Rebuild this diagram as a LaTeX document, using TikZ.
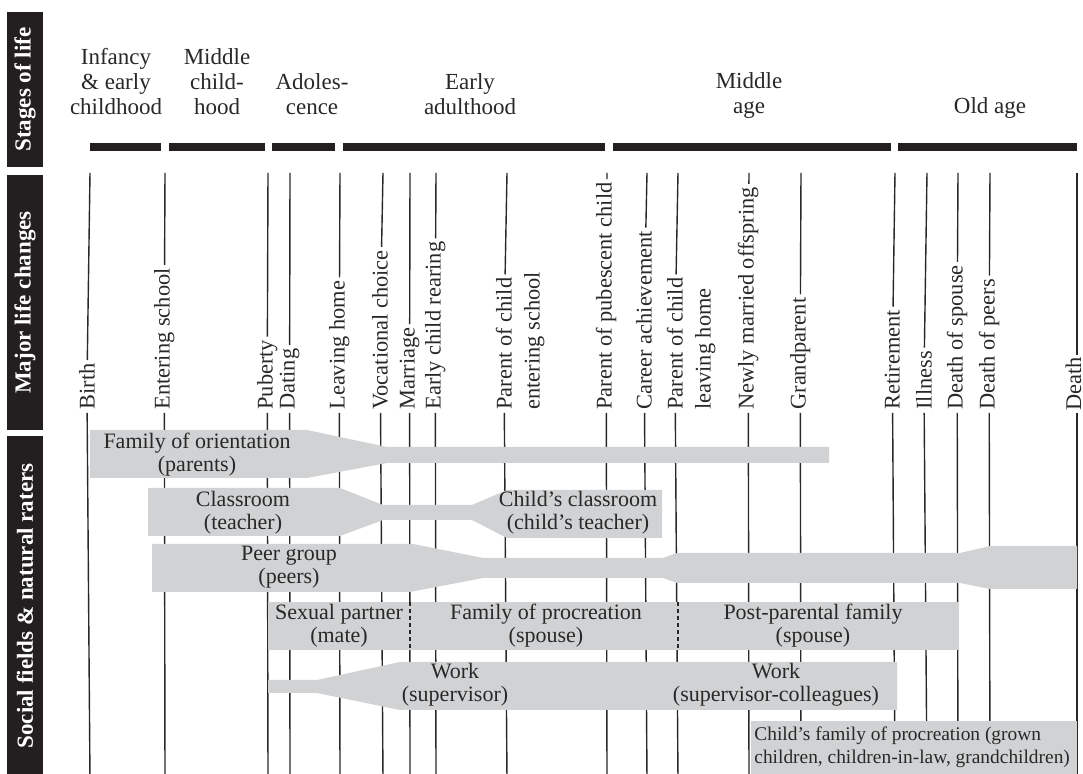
\documentclass[tikz,border=0pt]{standalone}
\usepackage{fontspec}
\setmainfont{Liberation Serif}
\usepackage{tikz}
\usetikzlibrary{positioning}
\definecolor{bandgray}{RGB}{209,210,212}
\definecolor{inkgray}{RGB}{40,40,40}
\definecolor{titleblack}{RGB}{35,31,32}
\tikzset{
titlebox/.style={fill=titleblack, text=white, rotate=90, inner sep=0pt, minimum height=18pt, font=\fontsize{11.5}{13}\selectfont\bfseries},
stagelabel/.style={align=center, anchor=south, inner sep=0pt, text=inkgray, font=\fontsize{11.5}{12.5}\selectfont},
stagebar/.style={fill=titleblack},
evlabel/.style={rotate=90, anchor=mid west, inner sep=1.5pt, text=inkgray, font=\fontsize{11.2}{13}\selectfont},
evline/.style={draw=inkgray, line width=0.7pt},
divider/.style={draw=inkgray, line width=0.7pt, dash pattern=on 2pt off 1.5pt},
band/.style={fill=bandgray},
bandtext/.style={align=center, inner sep=0pt, text=inkgray, font=\fontsize{11}{11.5}\selectfont}
}

\begin{document}
\begin{tikzpicture}[x=0.5pt,y=-0.5pt]
\useasboundingbox (0,0) rectangle (1083,774);

% row titles
\node[titlebox, minimum width=77.5pt] (stages) at (25,89.5) {Stages of life};
\node[titlebox, minimum width=127.5pt] (changes) at (25,302.5) {Major life changes};
\node[titlebox, minimum width=170pt] (fields) at (25,606) {Social fields \& natural raters};

% stages of life
\node[stagelabel] (infancy) at (116,115) {Infancy\\\& early\\childhood};
\node[stagelabel] (middlechild) at (217,115) {Middle\\child-\\hood};
\node[stagelabel] (adolescence) at (312,115) {Adoles-\\cence};
\node[stagelabel] (earlyadult) at (470,115) {Early\\adulthood};
\node[stagelabel] (middleage) at (749,119) {Middle\\age};
\node[stagelabel] (oldage) at (990,119) {Old age};
\foreach \a/\b in {90/161,169/265,272/335,343/605,613/891,898/1077}
  \fill[stagebar] (\a,143) rectangle (\b,151);

% major life changes
\foreach \x/\n/\t in {90/birth/Birth, 165/school/Entering school, 268/puberty/Puberty,
  290/dating/Dating, 340/leavehome/Leaving home, 383/vocation/Vocational choice,
  410/marriage/Marriage, 436/rearing/Early child rearing, 507/childschool/Parent of child,
  607/pubescent/Parent of pubescent child, 647/career/Career achievement,
  678/childleaves/Parent of child, 749/offspring/Newly married offspring,
  801/grandparent/Grandparent, 895/retirement/Retirement, 927/illness/Illness,
  958/spousedeath/Death of spouse, 990/peersdeath/Death of peers}{
  \coordinate (\n top) at (\x,173);
  \coordinate (\n bot) at (\x,780);
  \node[evlabel] (\n) at (\x,413) {\t};
  \draw[evline] (\n top) -- (\n) -- (\n bot);
}
\node[evlabel] (childschool2) at (535,413) {entering school};
\node[evlabel] (childleaves2) at (706,413) {leaving home};
% last line sits on the right edge
\coordinate (death top) at (1077,173);
\coordinate (death bot) at (1077,780);
\node[evlabel, anchor=base west, inner sep=1pt] (death) at (1081,413) {Death};
\draw[evline] (death top) -- (death top |- death.east);
\draw[evline] (death top |- death.west) -- (death bot);

% social fields
\fill[band] (90,430) -- (307,430) -- (387,447) -- (829,447) -- (829,463) -- (387,463)
  -- (307,478) -- (90,478) -- cycle;
\fill[band] (148,488) -- (340,488) -- (383,505) -- (472,505) -- (507,490) -- (662,490)
  -- (662,538) -- (507,538) -- (472,520) -- (383,520) -- (340,536) -- (148,536) -- cycle;
\fill[band] (152,544) -- (413,544) -- (483,558) -- (663,558) -- (677,553) -- (960,553)
  -- (990,546) -- (1077,546) -- (1077,589) -- (990,589) -- (960,583) -- (677,583)
  -- (663,578) -- (483,578) -- (410,592) -- (152,592) -- cycle;
\fill[band] (268,602) rectangle (959,650);
\fill[band] (268,680) -- (317,680) -- (400,662) -- (897,662) -- (897,710) -- (400,710)
  -- (317,693) -- (268,693) -- cycle;
\fill[band] (751,721) rectangle (1077,780);

\coordinate (matetop) at (410,602);
\coordinate (matebot) at (410,650);
\coordinate (spousetop) at (678,602);
\coordinate (spousebot) at (678,650);
\draw[divider] (matetop) -- (matebot);
\draw[divider] (spousetop) -- (spousebot);

\node[bandtext] (orientation) at (197,454.5) {Family of orientation\\(parents)};
\node[bandtext] (classroom) at (243,513) {Classroom\\(teacher)};
\node[bandtext] (childclass) at (578,513) {Child's classroom\\(child's teacher)};
\node[bandtext] (peers) at (289,567) {Peer group\\(peers)};
\node[bandtext] (mate) at (339,626) {Sexual partner\\(mate)};
\node[bandtext] (procreation) at (546,626) {Family of procreation\\(spouse)};
\node[bandtext] (postparent) at (813,626) {Post-parental family\\(spouse)};
\node[bandtext] (work) at (455,685) {Work\\(supervisor)};
\node[bandtext] (workcoll) at (776,685) {Work\\(supervisor-colleagues)};
\node[bandtext, align=left, anchor=west, font=\fontsize{9.7}{11.5}\selectfont] (grown) at (754,747)
  {Child's family of procreation (grown\\children, children-in-law, grandchildren)};
\end{tikzpicture}
\end{document}
